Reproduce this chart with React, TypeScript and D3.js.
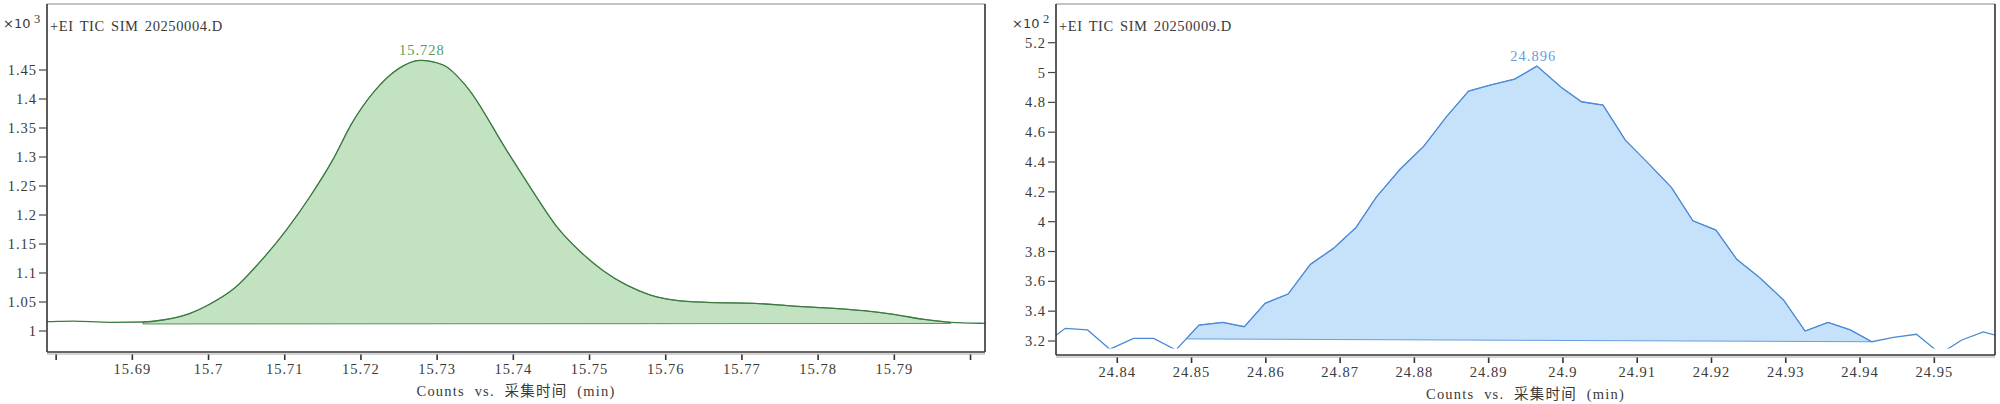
import React from "react";
import * as d3 from "d3";

// ---- data ----
// left panel: +EI TIC SIM 20250004.D  (counts x10^3)
const leftTime = [
  15.6770, 15.6789, 15.6822, 15.6870, 15.6914, 15.6940, 15.6975, 15.7002, 15.7035,
  15.7063, 15.7102, 15.7133, 15.7163, 15.7188, 15.7218, 15.7249, 15.7278, 15.7308,
  15.7337, 15.7391, 15.7426, 15.7457, 15.7488, 15.7518, 15.7549, 15.7580, 15.7611,
  15.7654, 15.7716, 15.7768, 15.7821, 15.7860, 15.7899, 15.7939, 15.7974, 15.8018,
  15.8040,
];
const leftCounts = [
  1.0158, 1.016, 1.017, 1.015, 1.0155, 1.019, 1.030, 1.0466, 1.075,
  1.1126, 1.174, 1.2315, 1.295, 1.358, 1.414, 1.452, 1.4667, 1.4586,
  1.424, 1.312, 1.240, 1.180, 1.1367, 1.104, 1.079, 1.062, 1.0534,
  1.0494, 1.0477, 1.043, 1.039, 1.035, 1.0288, 1.020, 1.015, 1.0132,
  1.0128,
];
const leftBaseline = [[15.6914, 1.0121], [15.7974, 1.0130]];
const leftXDomain = [15.6788, 15.8019];
const leftYDomain = [0.9638, 1.5638];
const leftXTicks = [15.68, 15.69, 15.7, 15.71, 15.72, 15.73, 15.74, 15.75, 15.76, 15.77, 15.78, 15.79, 15.8];
const leftXLabels = ["", "15.69", "15.7", "15.71", "15.72", "15.73", "15.74", "15.75", "15.76", "15.77", "15.78", "15.79", ""];
const leftYTicks = [1, 1.05, 1.1, 1.15, 1.2, 1.25, 1.3, 1.35, 1.4, 1.45];
const leftYLabels = ["1", "1.05", "1.1", "1.15", "1.2", "1.25", "1.3", "1.35", "1.4", "1.45"];

// right panel: +EI TIC SIM 20250009.D  (counts x10^2)
const rightTime = [
  24.8299, 24.8330, 24.8360, 24.8390, 24.8422, 24.8449, 24.8479, 24.8510, 24.8542,
  24.8571, 24.8599, 24.8630, 24.8660, 24.8691, 24.8721, 24.8749, 24.8781, 24.8812,
  24.8843, 24.8873, 24.8902, 24.8935, 24.8965, 24.8998, 24.9025, 24.9054, 24.9084,
  24.9115, 24.9146, 24.9175, 24.9206, 24.9234, 24.9265, 24.9297, 24.9326, 24.9357,
  24.9387, 24.9416, 24.9445, 24.9476, 24.9508, 24.9537, 24.9566, 24.9596,
];
const rightCounts = [
  3.17, 3.285, 3.274, 3.145, 3.218, 3.218, 3.140, 3.307, 3.325,
  3.296, 3.453, 3.515, 3.714, 3.821, 3.959, 4.167, 4.353, 4.502,
  4.703, 4.876, 4.916, 4.956, 5.043, 4.900, 4.804, 4.782, 4.547,
  4.391, 4.230, 4.006, 3.944, 3.748, 3.624, 3.475, 3.267, 3.325,
  3.274, 3.195, 3.225, 3.245, 3.115, 3.207, 3.261, 3.22,
];
const rightBaseline = [[24.8493, 3.214], [24.9416, 3.195]];
const rightXDomain = [24.83175, 24.95817];
const rightYDomain = [3.1062, 5.4594];
const rightXTicks = [24.84, 24.85, 24.86, 24.87, 24.88, 24.89, 24.9, 24.91, 24.92, 24.93, 24.94, 24.95];
const rightXLabels = ["24.84", "24.85", "24.86", "24.87", "24.88", "24.89", "24.9", "24.91", "24.92", "24.93", "24.94", "24.95"];
const rightYTicks = [3.2, 3.4, 3.6, 3.8, 4, 4.2, 4.4, 4.6, 4.8, 5, 5.2];
const rightYLabels = ["3.2", "3.4", "3.6", "3.8", "4", "4.2", "4.4", "4.6", "4.8", "5", "5.2"];

const FONT = "'Liberation Serif', 'Noto Sans CJK SC', serif";
const TEXT = "#3a3a3a";

function Panel({ id, left, top, width, height, time, counts, baseline, xDomain, yDomain,
  xTicks, xLabels, yTicks, yLabels, exponent, title, peak, stroke, fill, labelColor, smooth }) {
  const x = d3.scaleLinear().domain(xDomain).range([0, width]);
  const y = d3.scaleLinear().domain(yDomain).range([height, 0]);
  const pts = time.map((t, i) => [t, counts[i]]);

  const curve = smooth ? d3.curveMonotoneX : d3.curveLinear;
  const line = d3.line().x(d => x(d[0])).y(d => y(d[1])).curve(curve);

  // value of the trace at any time
  const bis = d3.bisector(d => d[0]).left;
  const at = (t) => {
    const i = Math.max(1, Math.min(pts.length - 1, bis(pts, t)));
    const a = pts[i - 1], b = pts[i];
    return a[1] + (b[1] - a[1]) * (t - a[0]) / (b[0] - a[0]);
  };
  const [b0, b1] = baseline;
  const inner = pts.filter(p => p[0] > b0[0] && p[0] < b1[0]);
  const top_ = [[b0[0], at(b0[0])], ...inner, [b1[0], at(b1[0])]];
  const areaPath = line(top_) + "L" + x(b1[0]) + "," + y(b1[1]) + "L" + x(b0[0]) + "," + y(b0[1]) + "Z";

  const peakIdx = d3.maxIndex(counts);
  const clipBottom = height - 6.5;

  return (
    <g transform={`translate(${left},${top})`} fontFamily={FONT} fill={TEXT}>
      <defs>
        <clipPath id={id}>
          <rect x={0} y={0} width={width} height={clipBottom} />
        </clipPath>
      </defs>
      <g clipPath={`url(#${id})`}>
        <path d={areaPath} fill={fill} stroke={stroke} strokeWidth={1} strokeOpacity={0.8} />
        <path d={line(pts)} fill="none" stroke={stroke} strokeWidth={1.3} />
      </g>
      <text x={x(peak)} y={y(counts[peakIdx]) - 5} textAnchor="middle" fontSize={14.5}
        fill={labelColor} letterSpacing={1}>{peak.toFixed(3)}</text>

      {/* frame */}
      <line x1={0} x2={width} y1={0} y2={0} stroke="#888" strokeWidth={1.2} />
      <line x1={0} x2={0} y1={0} y2={height} stroke="#333" strokeWidth={1.6} />
      <line x1={width} x2={width} y1={0} y2={height} stroke="#333" strokeWidth={1.6} />
      <line x1={0} x2={width} y1={height} y2={height} stroke="#333" strokeWidth={1.6} />
      <line x1={0} x2={width} y1={height + 2} y2={height + 2} stroke="#aaa" strokeWidth={1} />

      {/* x axis */}
      {xTicks.map((t, i) => (
        <g key={"x" + i} transform={`translate(${x(t)},0)`}>
          <line y1={height + 2.5} y2={height + 8} stroke="#333" strokeWidth={1.6} />
          <text y={height + 22} textAnchor="middle" fontSize={14.5} letterSpacing={1}>{xLabels[i]}</text>
        </g>
      ))}
      <text x={width / 2} y={height + 44} textAnchor="middle" fontSize={14.5} letterSpacing={1.2}
        wordSpacing={5}>
        Counts vs. 采集时间 (min)
      </text>

      {/* y axis */}
      {yTicks.map((v, i) => (
        <g key={"y" + i} transform={`translate(0,${y(v)})`}>
          <line x1={-8} x2={-1} stroke="#444" strokeWidth={1.2} />
          <text x={-10} dy="0.35em" textAnchor="end" fontSize={14.5} letterSpacing={1}>{yLabels[i]}</text>
        </g>
      ))}
      <text x={-44} y={24} fontSize={13} fontFamily="'DejaVu Sans', sans-serif">×10</text>
      <text x={-13} y={19} fontSize={12.5}>{exponent}</text>
      <text x={3} y={27} fontSize={14.5} letterSpacing={0.6} wordSpacing={2}>{title}</text>
    </g>
  );
}

export default function App() {
  return (
    <svg width={2000} height={404} style={{ position: "fixed", left: 0, top: 0, background: "#fff" }}>
      <rect width={2000} height={404} fill="#fff" />
      <Panel id="clipL" left={47} top={4} width={938} height={348}
        time={leftTime} counts={leftCounts} baseline={leftBaseline}
        xDomain={leftXDomain} yDomain={leftYDomain}
        xTicks={leftXTicks} xLabels={leftXLabels} yTicks={leftYTicks} yLabels={leftYLabels}
        exponent="3" title="+EI TIC SIM 20250004.D" peak={15.728}
        stroke="#3b7b41" fill="#c2e2c2" labelColor="#5a9c5a" smooth={true} />
      <Panel id="clipR" left={1056} top={4} width={939} height={351}
        time={rightTime} counts={rightCounts} baseline={rightBaseline}
        xDomain={rightXDomain} yDomain={rightYDomain}
        xTicks={rightXTicks} xLabels={rightXLabels} yTicks={rightYTicks} yLabels={rightYLabels}
        exponent="2" title="+EI TIC SIM 20250009.D" peak={24.896}
        stroke="#4a8ad6" fill="#c6e1fa" labelColor="#6b9ddc" smooth={false} />
    </svg>
  );
}
